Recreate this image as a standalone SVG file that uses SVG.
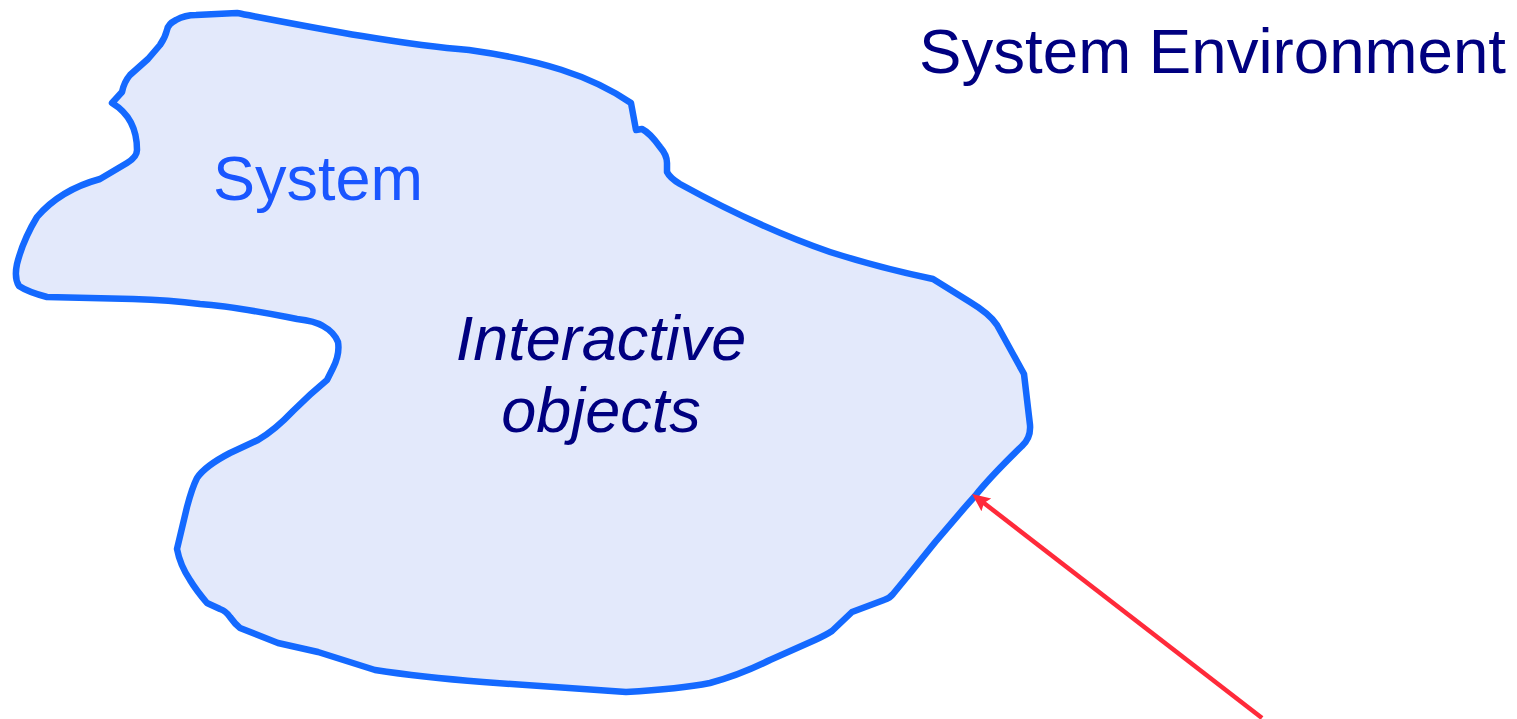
<svg xmlns="http://www.w3.org/2000/svg" width="1517" height="719" viewBox="0 0 1517 719">
  <style>
    .boundary { fill: #e3e9fb; stroke: #1469ff; stroke-width: 6.5; stroke-linejoin: round; }
    .label { font-family: "Liberation Sans", Arial, sans-serif; font-size: 63px; }
    .navy { fill: #000080; }
    .sys { fill: #1a56ff; }
    .link { stroke: #ff2a3a; stroke-width: 4.5; fill: none; }
  </style>
  <defs>
    <marker id="arrowhead" markerUnits="userSpaceOnUse" markerWidth="20" markerHeight="20" viewBox="0 -10 20 20" refX="8" refY="0" orient="auto">
      <path d="M0,-8 L18,0 L0,8 L3,0 Z" fill="#ff2a3a"/>
    </marker>
  </defs>

  <!-- system boundary -->
  <g id="system">
    <path class="boundary" d="M237,13
      C300,25 400,45 469,50
      C540,60 590,75 631,103
      L636,130 L642,129 Q650,133 660,147 Q667,155 667,163 L667,172 Q670,178 680,184
      Q760,228 830,252 Q880,268 933,279
      L970,302 Q990,314 997,325 L1024,374 L1030,425 Q1031,438 1022,446
      Q990,477 975,496 Q940,535 907,577 L893,594 Q890,598 884,600 L852,612 L832,631 Q826,635 815,640
      L770,660 Q740,675 710,683 Q680,689 626,692
      L483,682 Q420,677 375,670 L318,652 L278,643 L240,628 Q235,624 230,617 Q226,611 220,609 L207,603
      Q196,590 190,580 Q180,565 177,549 L187,507 Q192,488 197,478 Q205,466 230,453 L258,440
      Q275,430 293,411 Q310,394 327,380 L333,368 Q340,354 338,342 Q334,332 323,326 Q315,321 297,319 L287,317
      Q230,306 200,304 Q170,300 133,299 L47,297 Q28,292 19,286 Q14,278 17,264 Q23,240 37,217 Q60,190 100,179
      L127,163 Q137,157 137,150 Q137,118 112,103 L122,92 Q124,82 130,75 L148,59 L160,45
      Q165,38 167,30 Q168,24 176,20 Q185,15 196,15 Z"/>
    <text class="label sys" x="213" y="200" font-size="62">System</text>
  </g>

  <g id="interactive-objects">
    <text class="label navy" x="601" y="360" font-size="63" font-style="italic" text-anchor="middle">Interactive</text>
    <text class="label navy" x="601" y="432" font-size="63" font-style="italic" text-anchor="middle">objects</text>
  </g>

  <g id="environment">
    <text class="label navy" x="919" y="73" font-size="65.5" textLength="587" lengthAdjust="spacingAndGlyphs">System Environment</text>
  </g>

  <!-- connectors -->
  <g id="connectors">
    <line class="link" x1="1262" y1="718" x2="980" y2="500" marker-end="url(#arrowhead)"/>
  </g>
</svg>
